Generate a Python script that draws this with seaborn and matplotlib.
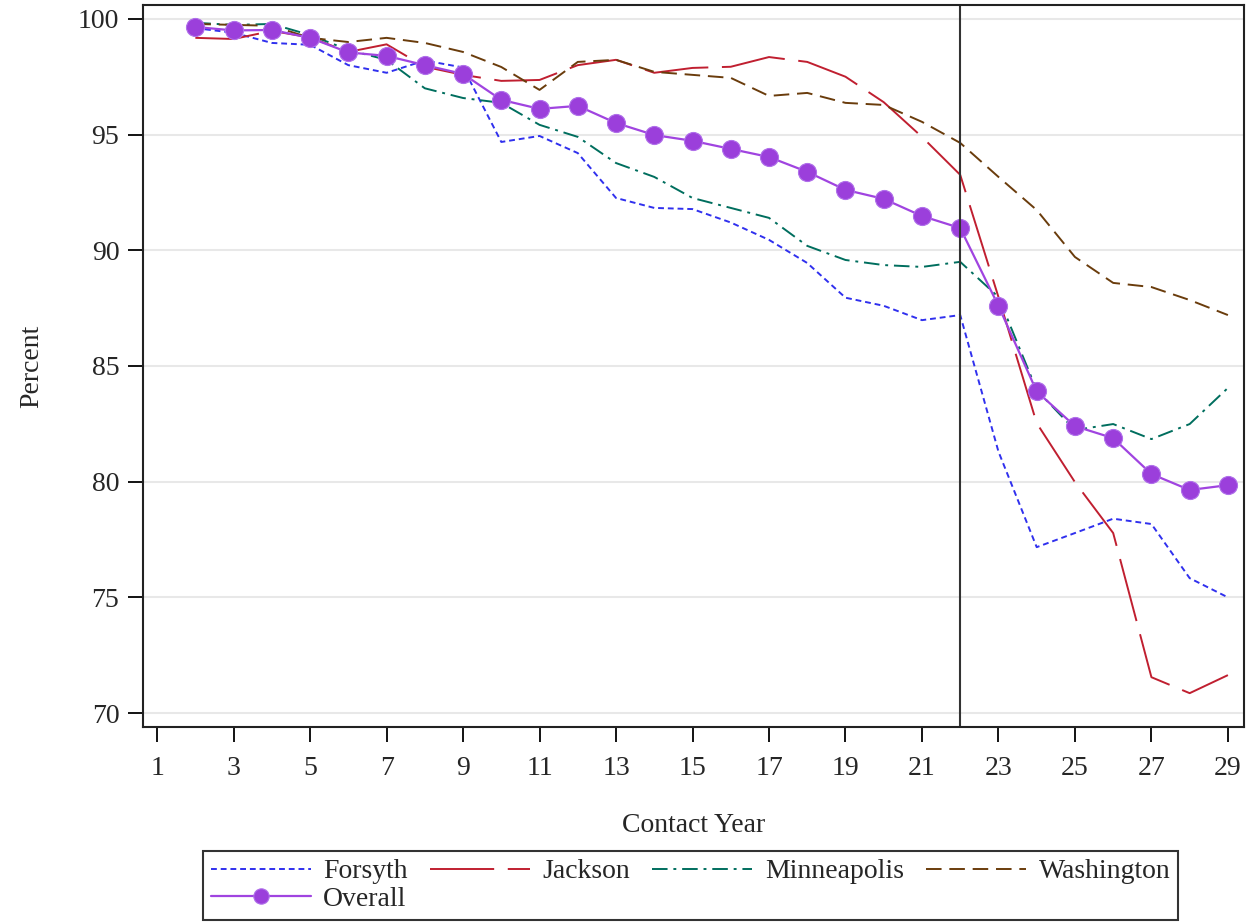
import matplotlib
matplotlib.use('Agg')
import matplotlib.pyplot as plt
import seaborn as sns
import pandas as pd

# Kontaktjahre und Prozentwerte je Standort
years = list(range(2, 30))

forsyth = [99.6, 99.4, 98.96, 98.88, 98.0, 97.67, 98.2, 97.9, 94.68, 94.94,
           94.2, 92.26, 91.83, 91.78, 91.2, 90.45, 89.45, 87.95, 87.6, 86.98,
           87.2, 81.3, 77.17, 77.78, 78.4, 78.17, 75.83, 75.0]
jackson = [99.18, 99.13, 99.48, 99.2, 98.57, 98.9, 97.93, 97.58, 97.32, 97.36,
           98.0, 98.23, 97.67, 97.88, 97.93, 98.35, 98.14, 97.5, 96.4, 94.9,
           93.26, 87.98, 82.53, 79.98, 77.78, 71.55, 70.86, 71.64]
minneapolis = [99.83, 99.74, 99.78, 99.3, 98.66, 98.23, 97.0, 96.58, 96.37, 95.42,
               94.9, 93.77, 93.17, 92.26, 91.83, 91.4, 90.19, 89.58, 89.36, 89.28,
               89.5, 87.98, 83.96, 82.23, 82.49, 81.84, 82.49, 84.05]
washington = [99.78, 99.74, 99.7, 99.18, 99.0, 99.18, 98.96, 98.57, 97.92, 96.93,
              98.14, 98.23, 97.71, 97.58, 97.45, 96.67, 96.8, 96.37, 96.28, 95.55,
              94.64, 93.17, 91.74, 89.71, 88.59, 88.41, 87.85, 87.2]
overall = [99.65, 99.5, 99.52, 99.18, 98.55, 98.4, 98.0, 97.62, 96.5, 96.11,
           96.24, 95.5, 94.98, 94.73, 94.38, 94.03, 93.39, 92.61, 92.22, 91.48,
           90.96, 87.6, 83.9, 82.4, 81.88, 80.33, 79.64, 79.85]

x_ticks = list(range(1, 30, 2))
y_ticks = [70, 75, 80, 85, 90, 95, 100]
cutoff_year = 22

sns.set_style('white')
plt.rcParams['font.family'] = ['Liberation Serif', 'DejaVu Serif']

fig = plt.figure(figsize=(12.54, 9.23), dpi=100)
ax = fig.add_axes([0.114, 0.2124, 0.878, 0.7822])

# Horizontale Gitterlinien
for yv in y_ticks:
    ax.axhline(yv, color='#e8e8e8', lw=1.5, zorder=0)

series = [
    ('Forsyth', forsyth, '#3030ee', (3, 2)),
    ('Jackson', jackson, '#c01f30', (33, 7)),
    ('Minneapolis', minneapolis, '#006e5e', (8, 3, 1.5, 3)),
    ('Washington', washington, '#6a3c0c', (8, 4)),
]
for name, vals, col, dash in series:
    df = pd.DataFrame({'year': years, 'pct': vals})
    sns.lineplot(data=df, x='year', y='pct', ax=ax, color=col, lw=1.4,
                 label=name, dashes=False)
    ax.lines[-1].set_dashes(dash)

df = pd.DataFrame({'year': years, 'pct': overall})
sns.lineplot(data=df, x='year', y='pct', ax=ax, color='#a044e0', lw=1.6,
             marker='o', markersize=13, markerfacecolor='#9b3fdb',
             markeredgecolor='#b070ea', markeredgewidth=0.8, label='Overall')

# Senkrechte Linie bei Jahr 22
ax.axvline(cutoff_year, color='#333333', lw=1.5)

ax.set_xlim(0.63, 29.42)
ax.set_ylim(69.4, 100.6)
ax.set_xticks(x_ticks)
ax.set_yticks(y_ticks)
ax.tick_params(axis='both', direction='out', length=11, width=1.3,
               labelsize=20, color='black', bottom=True, left=True)
ax.tick_params(axis='x', pad=10)
ax.tick_params(axis='y', pad=6)
for sp in ax.spines.values():
    sp.set_color('#222222')
    sp.set_linewidth(1.5)

ax.set_xlabel('Contact Year', fontsize=20, labelpad=23)
ax.set_ylabel('Percent', fontsize=20, labelpad=24)

# Legende: Reihenfolge so, dass zeilenweise gelesen wird
handles, labels = ax.get_legend_handles_labels()
order = [0, 4, 1, 2, 3]
leg = fig.legend([handles[i] for i in order], [labels[i] for i in order],
                 loc='upper left', bbox_to_anchor=(203 / 1254, 1 - 851 / 923),
                 ncol=4, fontsize=20, frameon=True, fancybox=False,
                 handlelength=3.6, borderpad=0.28, labelspacing=0.08,
                 columnspacing=0.8, handletextpad=0.45, markerscale=0.85,
                 borderaxespad=0)
leg.get_frame().set_edgecolor('black')
leg.get_frame().set_linewidth(1.5)
ax.get_legend().remove()

fig.savefig('out.png', dpi=100)
